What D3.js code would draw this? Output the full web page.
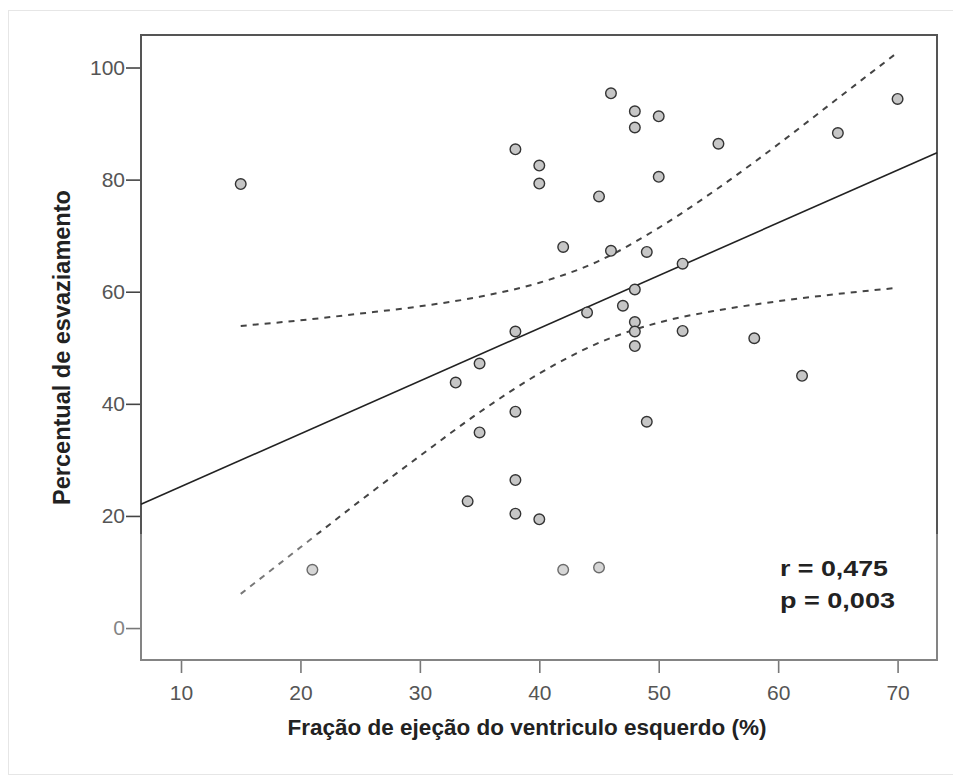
<!DOCTYPE html>
<html>
<head>
<meta charset="utf-8">
<script src="https://d3js.org/d3.v7.min.js"></script>
<style>
  body { margin: 0; background: #fff; }
  svg { display: block; font-family: "Liberation Sans", Arial, sans-serif; }
</style>
</head>
<body>
<svg width="953" height="781"></svg>
<script>
// Data
var fej = [15, 21, 33, 34, 35, 35, 38, 38, 38, 38, 38, 40, 40, 40, 42, 42, 44, 45, 45, 46,
           46, 47, 48, 48, 48, 48, 48, 48, 49, 49, 50, 50, 52, 52, 55, 58, 62, 65, 70];
var esvaz = [79.2, 10.4, 43.8, 22.6, 47.2, 34.9, 85.4, 52.9, 38.6, 26.4, 20.4, 82.5, 79.3, 19.4, 68.0, 10.4, 56.3, 77.0, 10.8, 95.4,
             67.3, 57.5, 92.2, 89.3, 60.4, 54.6, 52.9, 50.3, 67.1, 36.8, 91.3, 80.5, 65.0, 53.0, 86.4, 51.7, 45.0, 88.3, 94.4];

// regression line (ends at the plot edges)
var fitX = [6.65, 73.3];
var fitY = [22.1, 84.8];

// 95% band
var bandX = [15, 20, 25, 30, 35, 40, 45, 50, 55, 60, 65, 70];
var bandUpper = [53.9, 54.9, 56.1, 57.4, 59.1, 61.6, 65.5, 71.4, 78.5, 86.3, 94.5, 102.7];
var bandLower = [6.1, 14.4, 22.7, 30.7, 38.5, 45.4, 50.9, 54.5, 56.7, 58.3, 59.6, 60.7];

var xTicks = [10, 20, 30, 40, 50, 60, 70];
var yTicks = [0, 20, 40, 60, 80, 100];

var statLines = ["r = 0,475", "p = 0,003"];

var svg = d3.select("svg"),
    width = +svg.attr("width"),
    height = +svg.attr("height");

// plot box edges (window.top is taken, so own names)
var plotL = 141, plotR = 937, plotT = 35, plotB = 660;

var x = d3.scaleLinear().domain([6.65, 73.3]).range([plotL, plotR]);
var y = d3.scaleLinear().domain([-5.7, 105.8]).range([plotB, plotT]);

// faint outer frame
svg.append("rect")
    .attr("x", 8.5).attr("y", 10.5)
    .attr("width", 960).attr("height", 764)
    .attr("fill", "none")
    .attr("stroke", "#e6e6e6");

// axes
var yAxis = svg.append("g")
    .attr("transform", "translate(" + plotL + ",0)")
    .call(d3.axisLeft(y).tickValues(yTicks).tickSize(15).tickPadding(1));
var xAxis = svg.append("g")
    .attr("transform", "translate(0," + plotB + ")")
    .call(d3.axisBottom(x).tickValues(xTicks).tickSize(13).tickPadding(12));

[xAxis, yAxis].forEach(function (g) {
    g.select(".domain").remove();
    g.selectAll("line").attr("stroke", "#444").attr("stroke-width", 1.6);
    g.selectAll("text")
        .attr("fill", "#555")
        .style("font-size", "21px")
        .style("font-family", "'Liberation Sans', Arial, sans-serif");
});

// plot box
svg.append("rect")
    .attr("x", plotL).attr("y", plotT)
    .attr("width", plotR - plotL).attr("height", plotB - plotT)
    .attr("fill", "none")
    .attr("stroke", "#555")
    .attr("stroke-width", 2);

// confidence band
var band = d3.line()
    .x(function (d) { return x(d[0]); })
    .y(function (d) { return y(d[1]); })
    .curve(d3.curveMonotoneX);

[bandUpper, bandLower].forEach(function (vals) {
    svg.append("path")
        .datum(bandX.map(function (v, i) { return [v, vals[i]]; }))
        .attr("d", band)
        .attr("fill", "none")
        .attr("stroke", "#444")
        .attr("stroke-width", 2)
        .attr("stroke-dasharray", "6,6");
});

// fit line
svg.append("line")
    .attr("x1", x(fitX[0])).attr("y1", y(fitY[0]))
    .attr("x2", x(fitX[1])).attr("y2", y(fitY[1]))
    .attr("stroke", "#222")
    .attr("stroke-width", 1.6);

// points
svg.append("g")
    .selectAll("circle")
    .data(fej)
    .enter()
    .append("circle")
    .attr("cx", function (d) { return x(d); })
    .attr("cy", function (d, i) { return y(esvaz[i]); })
    .attr("r", 5.3)
    .attr("fill", "#c6c6c6")
    .attr("stroke", "#333")
    .attr("stroke-width", 1.4);

// the lower strip of the original looks washed out
svg.append("rect")
    .attr("x", 110).attr("y", 534)
    .attr("width", 840).attr("height", 150)
    .attr("fill", "#fff")
    .attr("opacity", 0.28);

// r and p
svg.selectAll(".stat")
    .data(statLines)
    .enter()
    .append("text")
    .attr("class", "stat")
    .attr("x", 780)
    .attr("y", function (d, i) { return 576 + i * 32; })
    .attr("textLength", function (d, i) { return i == 0 ? 108 : 115; })
    .attr("lengthAdjust", "spacingAndGlyphs")
    .attr("fill", "#222")
    .style("font-size", "22px")
    .style("font-weight", "bold")
    .text(function (d) { return d; });

// axis titles
svg.append("text")
    .attr("x", 527).attr("y", 735)
    .attr("text-anchor", "middle")
    .attr("fill", "#222")
    .style("font-size", "22.5px")
    .style("font-weight", "bold")
    .text("Fração de ejeção do ventriculo esquerdo (%)");

svg.append("text")
    .attr("transform", "translate(70,347.5) rotate(-90)")
    .attr("text-anchor", "middle")
    .attr("fill", "#222")
    .style("font-size", "23.5px")
    .style("font-weight", "bold")
    .text("Percentual de esvaziamento");
</script>
</body>
</html>
